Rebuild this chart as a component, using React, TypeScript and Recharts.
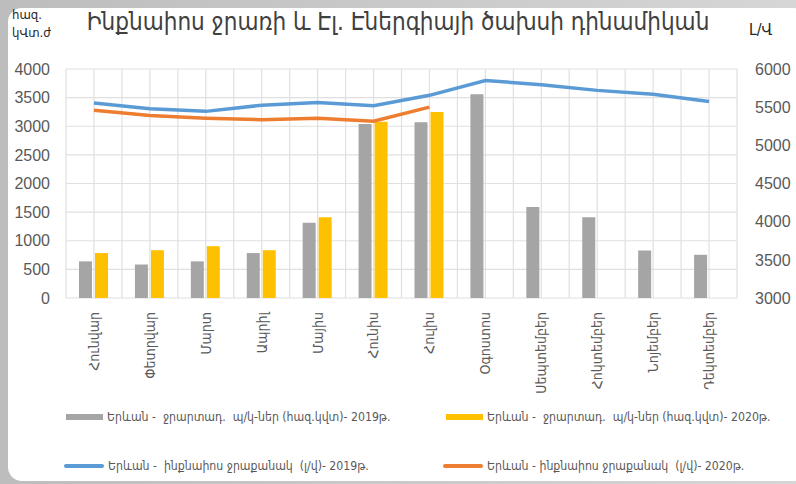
import { ComposedChart, Bar, Line, XAxis, YAxis, CartesianGrid } from "recharts";

const months = ["Հունվար", "Փետրվար", "Մարտ", "Ապրիլ", "Մայիս", "Հունիս", "Հուլիս", "Օգոստոս", "Սեպտեմբեր", "Հոկտեմբեր", "Նոյեմբեր", "Դեկտեմբեր"];
const power2019 = [640, 585, 640, 785, 1315, 3040, 3070, 3560, 1590, 1410, 830, 755];
const power2020 = [785, 835, 905, 835, 1410, 3080, 3250, null, null, null, null, null];
const flow2019 = [5555, 5480, 5445, 5525, 5560, 5520, 5655, 5850, 5795, 5720, 5670, 5575];
const flow2020 = [5460, 5390, 5355, 5335, 5355, 5315, 5500, null, null, null, null, null];
const leftTicks = [0, 500, 1000, 1500, 2000, 2500, 3000, 3500, 4000];
const rightTicks = [3000, 3500, 4000, 4500, 5000, 5500, 6000];

const seriesNames = [
  "Երևան -  ջրարտադ.  պ/կ-ներ (հազ.կվտ)- 2019թ.",
  "Երևան -  ջրարտադ.  պ/կ-ներ (հազ.կվտ)- 2020թ.",
  "Երևան -  ինքնաիոս ջրաքանակ  (լ/վ)- 2019թ.",
  "Երևան - ինքնաիոս ջրաքանակ  (լ/վ)- 2020թ.",
];

const data = months.map((m, i) => ({
  month: m,
  p19: power2019[i],
  p20: power2020[i],
  f19: flow2019[i],
  f20: flow2020[i],
}));

const ARM = '"DejaVu Sans Condensed", "DejaVu Sans", sans-serif';
const NUM = '"Liberation Sans", Arial, sans-serif';
const TEXT = "#595959";

function MonthTick({ x, y, payload }: any) {
  return (
    <text
      transform={`translate(${x},${y + 6}) rotate(-90)`}
      textAnchor="end"
      dy="0.35em"
      fill={TEXT}
      fontSize={14}
      fontFamily={ARM}
    >
      {payload.value}
    </text>
  );
}

const legendItems = [
  { name: seriesNames[0], color: "#a5a5a5", kind: "bar", left: 66, top: 417 },
  { name: seriesNames[1], color: "#ffc000", kind: "bar", left: 446, top: 417 },
  { name: seriesNames[2], color: "#5b9bd5", kind: "line", left: 64, top: 466 },
  { name: seriesNames[3], color: "#ed7d31", kind: "line", left: 443, top: 466 },
];

export default function App() {
  return (
    <div style={{ position: "fixed", left: 0, top: 0, width: 796, height: 484, overflow: "hidden", background: "linear-gradient(90deg, #bdbdbd, #d6d6d6)" }}>
      <div style={{ position: "absolute", left: 8, top: 8, width: 800, height: 473, background: "#fff", borderRadius: 14 }} />

      <div style={{ position: "absolute", left: 12, top: 6, fontFamily: ARM, fontSize: 13, color: "#262626", lineHeight: "18px" }}>
        <div>հազ.</div>
        <div>կՎտ.ժ</div>
      </div>
      <div style={{ position: "absolute", left: 0, width: 796, top: 8, textAlign: "center", fontFamily: ARM, fontSize: 24, color: "#404040" }}>
        Ինքնաիոս ջրառի և Էլ. Էներգիայի ծախսի դինամիկան
      </div>
      <div style={{ position: "absolute", left: 749, top: 20, fontFamily: ARM, fontSize: 16, color: "#262626" }}>Լ/Վ</div>

      <div style={{ position: "absolute", left: 0, top: 0 }}>
        <ComposedChart
          width={796}
          height={484}
          data={data}
          margin={{ top: 69, right: 9, bottom: 86, left: 16 }}
          barGap={3}
          barSize={13}
        >
          <CartesianGrid
            yAxisId="left"
            stroke="#e0e0e0"
            strokeWidth={1.2}
            verticalCoordinatesGenerator={({ offset }: any) =>
              Array.from({ length: 25 }, (_, i) => offset.left + (i * offset.width) / 24)
            }
          />
          <XAxis dataKey="month" axisLine={false} tickLine={false} interval={0} height={100} tick={<MonthTick />} />
          <YAxis
            yAxisId="left"
            domain={[0, 4000]}
            ticks={leftTicks}
            width={50}
            axisLine={false}
            tickLine={false}
            tick={{ fill: TEXT, fontSize: 16, fontFamily: NUM }}
            tickMargin={10}
          />
          <YAxis
            yAxisId="right"
            orientation="right"
            domain={[3000, 6000]}
            ticks={rightTicks}
            width={50}
            axisLine={false}
            tickLine={false}
            tick={{ fill: TEXT, fontSize: 16, fontFamily: NUM, textAnchor: "start" }}
            tickMargin={12}
          />
          <Bar yAxisId="left" dataKey="p19" name={seriesNames[0]} fill="#a5a5a5" isAnimationActive={false} />
          <Bar yAxisId="left" dataKey="p20" name={seriesNames[1]} fill="#ffc000" isAnimationActive={false} />
          <Line yAxisId="right" dataKey="f19" name={seriesNames[2]} stroke="#5b9bd5" strokeWidth={3.5} dot={false} isAnimationActive={false} />
          <Line yAxisId="right" dataKey="f20" name={seriesNames[3]} stroke="#ed7d31" strokeWidth={3.5} dot={false} isAnimationActive={false} />
        </ComposedChart>
      </div>

      {legendItems.map((it) => (
        <div
          key={it.name}
          style={{
            position: "absolute",
            left: it.left,
            top: it.top,
            transform: "translateY(-50%)",
            display: "flex",
            alignItems: "center",
            fontFamily: ARM,
            fontSize: 12.2,
            color: TEXT,
            whiteSpace: "pre",
          }}
        >
          <span
            style={{
              display: "inline-block",
              width: it.kind === "bar" ? 37 : 40,
              height: it.kind === "bar" ? 6 : 4,
              borderRadius: it.kind === "bar" ? 0 : 2,
              background: it.color,
              marginRight: 4,
            }}
          />
          {it.name}
        </div>
      ))}
    </div>
  );
}
